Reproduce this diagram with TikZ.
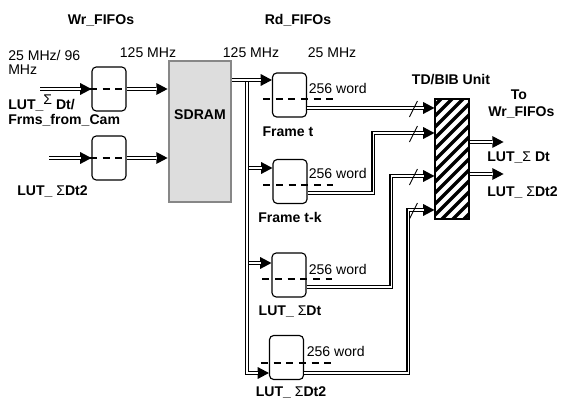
\documentclass[tikz,border=0pt]{standalone}
\usepackage{fontspec}
\setmainfont{Liberation Sans}
\usetikzlibrary{arrows.meta,positioning,calc}
\definecolor{ramfill}{RGB}{221,221,221}
\definecolor{ramedge}{RGB}{135,135,135}

\begin{document}
\begin{tikzpicture}[x=0.025cm, y=-0.025cm,
  every node/.style={font=\fontsize{10}{12}\selectfont, inner sep=0pt},
  lbl/.style={font=\fontsize{10}{12}\selectfont\bfseries},
  fifo/.style={draw, line width=0.8pt, rounded corners=3pt, minimum width=0.85cm, minimum height=1.1cm},
  darr/.style={line width=2.8pt, -{Triangle[length=8pt,width=8.5pt,line width=0pt]},
    postaction={draw=white, line width=1.3pt, shorten >=7.5pt, -}},
  fdash/.style={line width=1.3pt, dash pattern=on 5pt off 4pt},
  tick/.style={line width=0.6pt}]
\useasboundingbox (0,0) rectangle (564,399);

% titles and clocks
\node[lbl] (wrtitle) at (101,20) {Wr\_FIFOs};
\node[lbl] (rdtitle) at (298,20) {Rd\_FIFOs};
\node[anchor=west] (fclkA) at (8,55) {25 MHz/ 96};
\node[anchor=west] (fclkB) at (8,70) {MHz};
\node (wclk) at (148,53) {125 MHz};
\node (rclkA) at (251,53) {125 MHz};
\node (rclkB) at (332,53) {25 MHz};

% write side
\node[fifo] (wrA) at (109,89) {};
\node[fifo] (wrB) at (109,158) {};
\draw[fdash] ([xshift=-1pt]wrA.west) -- ([xshift=1pt]wrA.east);
\draw[fdash] ([xshift=-1pt]wrB.west) -- ([xshift=1pt]wrB.east);
\node[lbl, anchor=west] (srcA) at (8,103) {LUT\_\raisebox{3pt}{\normalfont Σ} Dt/};
\node[lbl, anchor=west] (srcAb) at (8,120) {Frms\_from\_Cam};
\node[lbl, anchor=west] (srcB) at (17,191) {LUT\_ {\normalfont Σ}Dt2};

\node[draw=ramedge, fill=ramfill, line width=2pt, minimum width=1.55cm, minimum height=3.52cm] (sdram) at (200,131.5) {};
\node[lbl] (sdramlbl) at (200,115) {SDRAM};

\coordinate (inA) at (40,89);
\coordinate (inB) at (49,158);
\draw[darr] (inA) -- (wrA.west);
\draw[darr] (inB) -- (wrB.west);
\draw[darr] (wrA.east) -- (sdram.west |- wrA.east);
\draw[darr] (wrB.east) -- (sdram.west |- wrB.east);

% read side
\node[fifo] (rdT) at (289.5,95) {};
\node[fifo] (rdTk) at (290,181.5) {};
\node[fifo] (rdDt) at (289,275) {};
\node[fifo] (rdDtt) at (286.5,357.5) {};
\draw[fdash] ($(rdT.west)+(-9,4)$) -- ++(70,0);
\draw[fdash] ($(rdTk.west)+(-9,3.5)$) -- ++(70,0);
\draw[fdash] ($(rdDt.west)+(-9,4)$) -- ++(70,0);
\draw[fdash] ($(rdDtt.west)+(-8,5.5)$) -- ++(70,0);
\node[anchor=west] (wdT) at ($(rdT.east)+(1.5,-7)$) {256 word};
\node[anchor=west] (wdTk) at ($(rdTk.east)+(1,-8.5)$) {256 word};
\node[anchor=west] (wdDt) at ($(rdDt.east)+(2,-6)$) {256 word};
\node[anchor=west] (wdDtt) at ($(rdDtt.east)+(2.5,-6.5)$) {256 word};
\node[lbl] (nmT) at (288,132) {Frame t};
\node[lbl] (nmTk) at (290,217) {Frame t-k};
\node[lbl] (nmDt) at (290,312) {LUT\_ {\normalfont Σ}Dt};
\node[lbl] (nmDtt) at (291,392) {LUT\_ {\normalfont Σ}Dt2};

% bus from SDRAM
\coordinate (busTop) at (247,80);
\coordinate (busBot) at (247,373);
\coordinate (brTk) at (247,168);
\coordinate (brDt) at (247,263);
\draw[darr] (brTk) -- (rdTk.west |- brTk);
\draw[darr] (brDt) -- (rdDt.west |- brDt);
\draw[darr] (busTop) -- (busBot) -- (rdDtt.west |- busBot);
\draw[darr] (sdram.east |- busTop) -- (rdT.west |- busTop);

% TD/BIB unit
\node[draw, line width=0.8pt, minimum width=0.85cm, minimum height=3cm,
  path picture={
    \foreach \k in {0,...,17}
      \draw[line width=2.4pt] ($(path picture bounding box.south west)+(-10,50-\k*11)$) -- ++(70,-70);
  }] (tdbib) at (452,159) {};
\node[lbl] (tdlbl) at (451,80) {TD/BIB Unit};

\coordinate (tdA) at ($(tdbib.west)+(0,-51)$);
\coordinate (tdB) at ($(tdbib.west)+(0,-26)$);
\coordinate (tdC) at ($(tdbib.west)+(0,17)$);
\coordinate (tdD) at ($(tdbib.west)+(0,51)$);
\draw[darr] (rdT.east |- tdA) -- (tdA);
\draw[darr] ($(rdTk.east)+(0,11.5)$) -| ($(tdB)+(-61,0)$) -- (tdB);
\draw[darr] ($(rdDt.east)+(0,12)$) -| ($(tdC)+(-43,0)$) -- (tdC);
\draw[darr] ($(rdDtt.east)+(0,15.5)$) -| ($(tdD)+(-26,0)$) -- (tdD);
\foreach \c in {tdA,tdB,tdC,tdD}
  \draw[tick] ($(\c)+(-25,9)$) -- ($(\c)+(-17,-7)$);

\coordinate (outA) at ($(tdbib.east)+(34,-17)$);
\coordinate (outB) at ($(tdbib.east)+(34,15)$);
\draw[darr] (tdbib.east |- outA) -- (outA);
\draw[darr] (tdbib.east |- outB) -- (outB);
\node[lbl] (tolbl) at (519,95) {To};
\node[lbl, anchor=west] (towr) at (488,112) {Wr\_FIFOs};
\node[lbl, anchor=west] (outAlbl) at (487,158) {LUT\_{\normalfont Σ} Dt};
\node[lbl, anchor=west] (outBlbl) at (487,192) {LUT\_ {\normalfont Σ}Dt2};
\end{tikzpicture}
\end{document}
